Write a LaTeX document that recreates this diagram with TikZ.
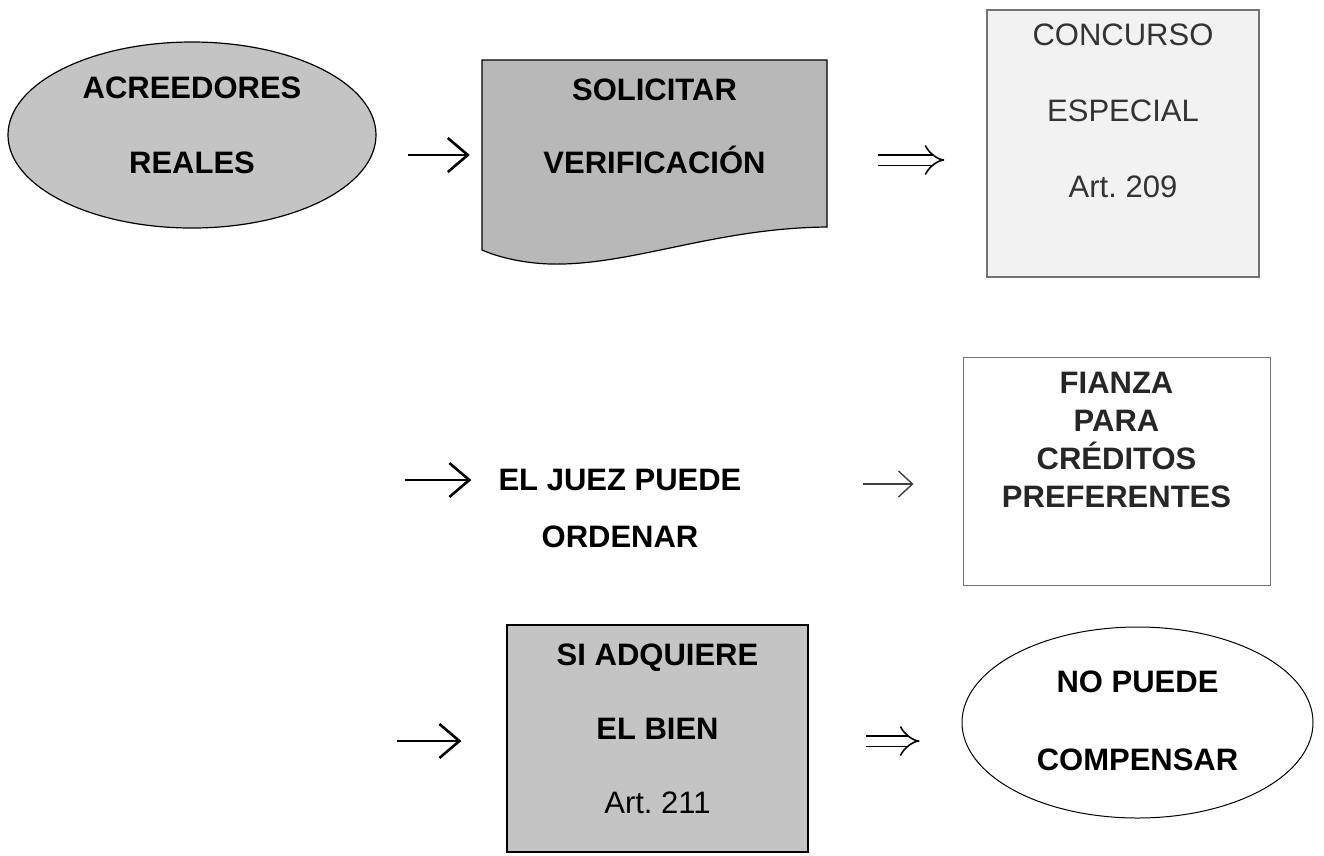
\documentclass[tikz,border=0pt]{standalone}
\usepackage{fontspec}
\setmainfont{Liberation Sans}
\usetikzlibrary{shapes.geometric,arrows.meta}

\definecolor{shadegray}{HTML}{C4C4C4}
\definecolor{docgray}{HTML}{B8B8B8}
\definecolor{palegray}{HTML}{F2F2F2}

\begin{document}
\begin{tikzpicture}[x=1pt,y=-1pt,
    bigfont/.style={font=\bfseries\fontsize{31}{#1}\selectfont},
    oval/.style={ellipse,draw,line width=1.2pt,align=center},
    box/.style={rectangle,draw,line width=1.2pt,align=center},
    arr/.style={line width=2.6pt,-{Straight Barb[length=20pt,width=34pt]}},
    thinarr/.style={line width=1.4pt,draw=black!75,-{Straight Barb[length=14pt,width=26pt]}},
    dblarr/.style={double,double distance=9pt,line width=1.6pt,-{Implies[scale=1.7]}}]

    \path[use as bounding box,fill=white] (0,0) rectangle (1324,855);

    % Top row
    \node[oval,fill=shadegray,bigfont=75,minimum width=368pt,minimum height=186pt,text depth=19pt] (acr) at (192,135) {ACREEDORES\\REALES};

    \filldraw[fill=docgray,line width=1.2pt]
    (482,60) -- (827,60)                                  % top edge
    -- (827,227)                                          % right side down
    .. controls (720,228) and (640,262) .. (563,264)      % wavy bottom
    .. controls (530,265) and (500,258) .. (482,250)
    -- cycle;
    \node[bigfont=73,align=center,minimum width=345pt,minimum height=167pt,text depth=34pt] (sol) at (654.5,143.5) {SOLICITAR\\VERIFICACIÓN};

    \node[box,draw=black!55,fill=palegray,text=black!80,font=\fontsize{31}{76}\selectfont,minimum width=272pt,minimum height=267pt,text depth=65pt] (conc) at (1123,143.5) {CONCURSO\\ESPECIAL\\Art.\ 209};

    \draw[arr,shorten <=31pt,shorten >=12pt] ([yshift=-20pt]acr.east) -- ([yshift=-20pt]acr.east -| sol.west);
    \draw[dblarr,shorten <=51pt,shorten >=42pt] ([yshift=-16.5pt]sol.east) -- ([yshift=-16.5pt]sol.east -| conc.west);

    % Middle row
    \node[bigfont=57,align=center,inner sep=0pt] (juez) at (620,508.5) {EL JUEZ PUEDE\\ORDENAR};
    \node[box,draw=black!55,line width=1pt,text=black!85,bigfont=38,minimum width=307pt,minimum height=228pt,text depth=62pt] (fia) at (1116.5,471) {FIANZA\\PARA\\CRÉDITOS\\PREFERENTES};

    \coordinate (start2) at (405,480);
    \draw[arr,shorten >=27pt] (start2) -- (start2 -| juez.west);
    \draw[thinarr,shorten <=121pt,shorten >=49pt] ([yshift=24.5pt]juez.east) -- ([yshift=24.5pt]juez.east -| fia.west);

    % Bottom row
    \node[box,fill=shadegray,bigfont=74,minimum width=301pt,minimum height=227pt,text depth=19pt] (sib) at (657.5,738.5) {SI ADQUIERE\\EL BIEN\\{\mdseries Art.\ 211}};
    \node[oval,line width=1pt,bigfont=78,minimum width=351pt,minimum height=191pt,text depth=3pt] (nop) at (1137.5,722.5) {NO PUEDE\\COMPENSAR};

    \coordinate (start3) at (397,741);
    \draw[arr,shorten >=45pt] (start3) -- (start3 -| sib.west);
    \draw[dblarr,shorten <=57pt,shorten >=42pt] ([yshift=-2.5pt]sib.east) -- ([yshift=-2.5pt]sib.east -| nop.west);
\end{tikzpicture}
\end{document}
